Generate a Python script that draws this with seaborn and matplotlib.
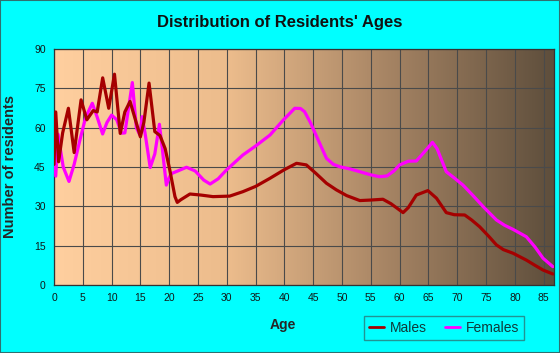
import numpy as np
import pandas as pd
import matplotlib
matplotlib.use("Agg")
import matplotlib.pyplot as plt
import seaborn as sns
from matplotlib.colors import LinearSegmentedColormap
from matplotlib.patches import Rectangle
from matplotlib.ticker import MultipleLocator
from matplotlib.lines import Line2D

# -------------------------- data --------------------------
male_age = [0, 0.3, 0.8, 1.5, 2.5, 3.5, 4.7, 5.7, 6.8, 7.5, 8.45, 9.5, 10.5, 11.5,
            12.3, 13.2, 14.0, 15.0, 15.6, 16.5, 17.5, 18.4, 19.3, 20.1, 21.0, 21.4,
            22.0, 23.6, 25.5, 27.6, 30.5, 32.8, 35.0, 37.5, 40.0, 42.1, 43.8, 45.5,
            47.3, 49.0, 50.8, 53.1, 55.0, 57.1, 58.5, 60.6, 61.5, 62.9, 64.9, 66.4,
            68.1, 69.5, 71.3, 72.5, 73.9, 75.5, 76.8, 78.0, 79.7, 82.0, 83.5, 84.9, 86.6]
male_count = [46, 66, 47, 58, 67.4, 50.5, 70.6, 63, 66.5, 66, 79, 67.4, 80.4, 57.8,
              66, 70, 64, 56.5, 62, 77, 58.5, 57, 52, 43.9, 33.7, 31.5,
              32.5, 34.7, 34.3, 33.7, 33.9, 35.6, 37.6, 40.7, 44, 46.4, 45.8, 42.5,
              38.8, 36.3, 34.1, 32.2, 32.4, 32.7, 31, 27.6, 29.5, 34.3, 36.0, 33.1,
              27.6, 26.8, 26.7, 24.8, 22.2, 18.5, 15.3, 13.5, 12.1, 9.5, 7.5, 5.7, 4.2]

female_age = [0, 0.3, 0.7, 1.6, 2.6, 3.5, 4.5, 5.5, 6.65, 7.5, 8.44, 9.2, 10.0, 10.9,
              11.7, 12.3, 13.6, 14.3, 14.9, 15.3, 15.8, 16.7, 17.5, 18.3, 18.8, 19.5,
              20.0, 20.4, 21.5, 23.0, 24.5, 26.0, 27.1, 28.5, 29.95, 31.5, 32.8, 35.0,
              37.5, 39.8, 41.8, 42.8, 43.5, 44.5, 45.6, 47.3, 48.5, 49.6, 51.5, 53.1,
              55.0, 56.5, 57.8, 59.0, 60.0, 61.5, 62.9, 64.0, 65.7, 66.5, 68.1, 69.5,
              71.0, 72.7, 74.5, 76.8, 78.2, 79.7, 82.0, 83.5, 84.9, 86.6]
female_count = [58, 41.5, 57.5, 45, 39.5, 46, 55.3, 64, 69.3, 64, 57.6, 62, 64.8, 63,
                57.9, 58, 77.2, 60, 57.2, 64.2, 58, 44.8, 50, 61.3, 52, 38.1,
                41, 42.5, 43.5, 44.9, 43.5, 40, 38.5, 40.5, 43.9, 47, 49.6, 53,
                57.2, 62.9, 67.4, 67.3, 66.1, 62, 56.6, 48.3, 46, 45.1, 44.2, 43.2,
                42, 41.3, 41.6, 43.5, 45.8, 47.2, 47.3, 50, 54.4, 52, 43.2, 40.8,
                38.1, 34.2, 29.9, 24.8, 22.8, 21.2, 18.4, 14.5, 10.2, 7.0]

x_ticks = list(range(0, 90, 5))
y_ticks = [0, 15, 30, 45, 60, 75, 90]
series_names = ["Males", "Females"]
series_colors = ["#A50000", "#FF00FF"]

# -------------------------- style --------------------------
sns.set_style("white")
plt.rcParams['font.family'] = ['Liberation Sans', 'DejaVu Sans']

fig = plt.figure(figsize=(5.6, 3.53), dpi=100, facecolor="#00FFFF")
fig.patches.append(Rectangle((0, 0), 1, 1, transform=fig.transFigure, fill=False,
                             edgecolor="#2f7070", linewidth=1.5))
ax = fig.add_axes([54 / 560, 68 / 353, 500 / 560, 236 / 353])

x_max, y_max = 86.8, 90

# background gradient, peach -> dark brown
grad_cmap = LinearSegmentedColormap.from_list(
    "bg", [(0.0, "#FFCF9F"), (0.35, "#ECBC8C"), (0.65, "#AA8766"), (1.0, "#5E4E3C")])
ax.imshow(np.linspace(0, 1, 256).reshape(1, -1), extent=[0, x_max, 0, y_max],
          aspect="auto", cmap=grad_cmap, zorder=0)

df_m = pd.DataFrame({"Age": male_age, "Count": male_count})
df_f = pd.DataFrame({"Age": female_age, "Count": female_count})
sns.lineplot(data=df_f, x="Age", y="Count", sort=False, color=series_colors[1],
             linewidth=2.3, ax=ax, zorder=3, solid_joinstyle="round", solid_capstyle="round")
sns.lineplot(data=df_m, x="Age", y="Count", sort=False, color=series_colors[0],
             linewidth=2.3, ax=ax, zorder=4, solid_joinstyle="round", solid_capstyle="round")

ax.set_xlim(0, x_max)
ax.set_ylim(0, y_max)
ax.set_xticks(x_ticks)
ax.set_yticks(y_ticks)
ax.xaxis.set_minor_locator(MultipleLocator(1))
ax.set_axisbelow(True)
ax.grid(True, which="major", color="#4a4a4a", linewidth=0.8)
ax.tick_params(axis="x", which="major", length=4, width=0.8, color="#1d6b6b",
               labelsize=7.5, pad=2, labelcolor="#101818")
ax.tick_params(axis="x", which="minor", length=2.5, width=0.8, color="#1d6b6b")
ax.tick_params(axis="y", which="major", length=4, width=0.8, color="#1d6b6b",
               labelsize=7.5, pad=2, labelcolor="#101818")
for s in ax.spines.values():
    s.set_color("#333333")
    s.set_linewidth(0.9)

ax.set_xlabel("Age", fontsize=10, fontweight="bold")
ax.set_ylabel("Number of residents", fontsize=10.5, fontweight="bold")
ax.xaxis.set_label_coords((283 - 54) / 500, (285 - 318) / 236)
ax.yaxis.set_label_coords((17 - 54) / 500, 0.5)

fig.text(0.5, 1 - 22 / 353, "Distribution of Residents' Ages", ha="center", va="center",
         fontsize=12, fontweight="bold", color="#111111")

handles = [Line2D([0], [0], color=c, linewidth=2) for c in series_colors]
leg = fig.legend(handles, series_names, loc="center", bbox_to_anchor=(444 / 560, 1 - 328 / 353),
                 ncol=2, frameon=True, fancybox=False, edgecolor="#2a7a7a",
                 facecolor="#00FFFF", fontsize=10, handlelength=1.1, handletextpad=0.4,
                 columnspacing=1.3, borderpad=0.35)
leg.get_frame().set_linewidth(1.0)
for t in leg.get_texts():
    t.set_color("#0f3a3a")

plt.savefig("out.png", dpi=100, facecolor=fig.get_facecolor())
plt.close()
